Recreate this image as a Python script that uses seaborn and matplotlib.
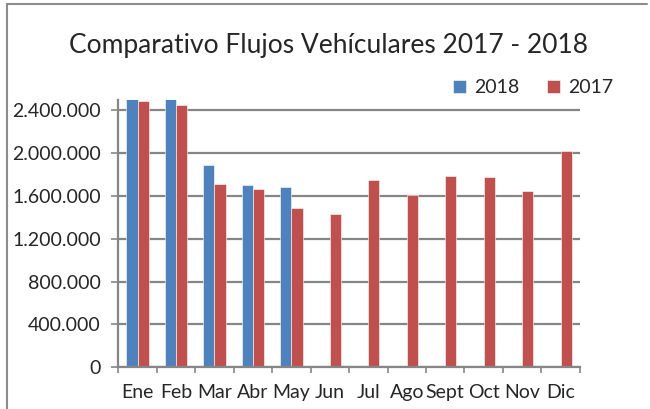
import matplotlib
matplotlib.use("Agg")
import matplotlib.pyplot as plt
from matplotlib.lines import Line2D
from matplotlib.ticker import FuncFormatter, FixedLocator
import seaborn as sns
import pandas as pd
import numpy as np

# data
meses = ["Ene", "Feb", "Mar", "Abr", "May", "Jun", "Jul", "Ago", "Sept", "Oct", "Nov", "Dic"]
flujo_2018 = [2510000, 2510000, 1883000, 1700000, 1678000]
flujo_2017 = [2483000, 2449000, 1706000, 1660000, 1488000, 1432000,
              1746000, 1604000, 1784000, 1777000, 1641000, 2017000]
y_ticks = [0, 400000, 800000, 1200000, 1600000, 2000000, 2400000]

azul = "#4F81BD"
rojo = "#C0504D"
gris = "#868686"

df = pd.concat([
    pd.DataFrame({"mes": meses[:len(flujo_2018)], "flujo": flujo_2018, "anio": "2018"}),
    pd.DataFrame({"mes": meses, "flujo": flujo_2017, "anio": "2017"}),
])

sns.set_style("white")
plt.rcParams["font.family"] = ["Lato", "DejaVu Sans"]

fig = plt.figure(figsize=(6.5, 4.09), dpi=100)
ax = fig.add_axes([0.182, 0.102, 0.710, 0.6535])

sns.barplot(data=df, x="mes", y="flujo", hue="anio", order=meses,
            hue_order=["2018", "2017"], palette=[azul, rojo], saturation=1,
            width=0.58, gap=0, errorbar=None, ax=ax,
            edgecolor="white", linewidth=0.4)

ax.set_ylim(0, 2493000)
ax.set_xlim(-0.5, len(meses) - 0.5)
ax.set_yticks(y_ticks)
ax.yaxis.set_major_formatter(FuncFormatter(lambda v, p: f"{int(v):,}".replace(",", ".")))
ax.yaxis.grid(True, color=gris, linewidth=1.6)
ax.set_axisbelow(True)
ax.set_xlabel("")
ax.set_ylabel("")

for s in ["top", "right"]:
    ax.spines[s].set_visible(False)
for s in ["left", "bottom"]:
    ax.spines[s].set_color(gris)
    ax.spines[s].set_linewidth(1.6)

ax.tick_params(axis="y", which="major", left=True, length=4.7, width=1.2,
               color=gris, pad=8, labelsize=14)
ax.tick_params(axis="x", which="major", length=0, pad=12, labelsize=14)
ax.xaxis.set_minor_locator(FixedLocator(np.arange(-0.5, len(meses), 1.0)))
ax.tick_params(axis="x", which="minor", bottom=True, length=4.5, width=1.2, color=gris)

fig.text(0.506, 0.888, "Comparativo Flujos Vehículares 2017 - 2018",
         ha="center", va="center", fontsize=19)

handles, labels = ax.get_legend_handles_labels()
ax.legend(handles, labels, ncol=2, frameon=False, fontsize=14,
          loc="center", bbox_to_anchor=(0.82, 0.785),
          bbox_transform=fig.transFigure, handlelength=0.7,
          handleheight=0.7, handletextpad=0.4, columnspacing=1.4)

# chart frame pieces visible at the edges
fig.add_artist(Line2D([0.0115, 0.0115], [0, 0.99], color="#8c8c8c", linewidth=1.5))
fig.add_artist(Line2D([0.0115, 0.995], [0.99, 0.99], color="#8c8c8c", linewidth=1.5))

fig.savefig("out.png", dpi=100)
